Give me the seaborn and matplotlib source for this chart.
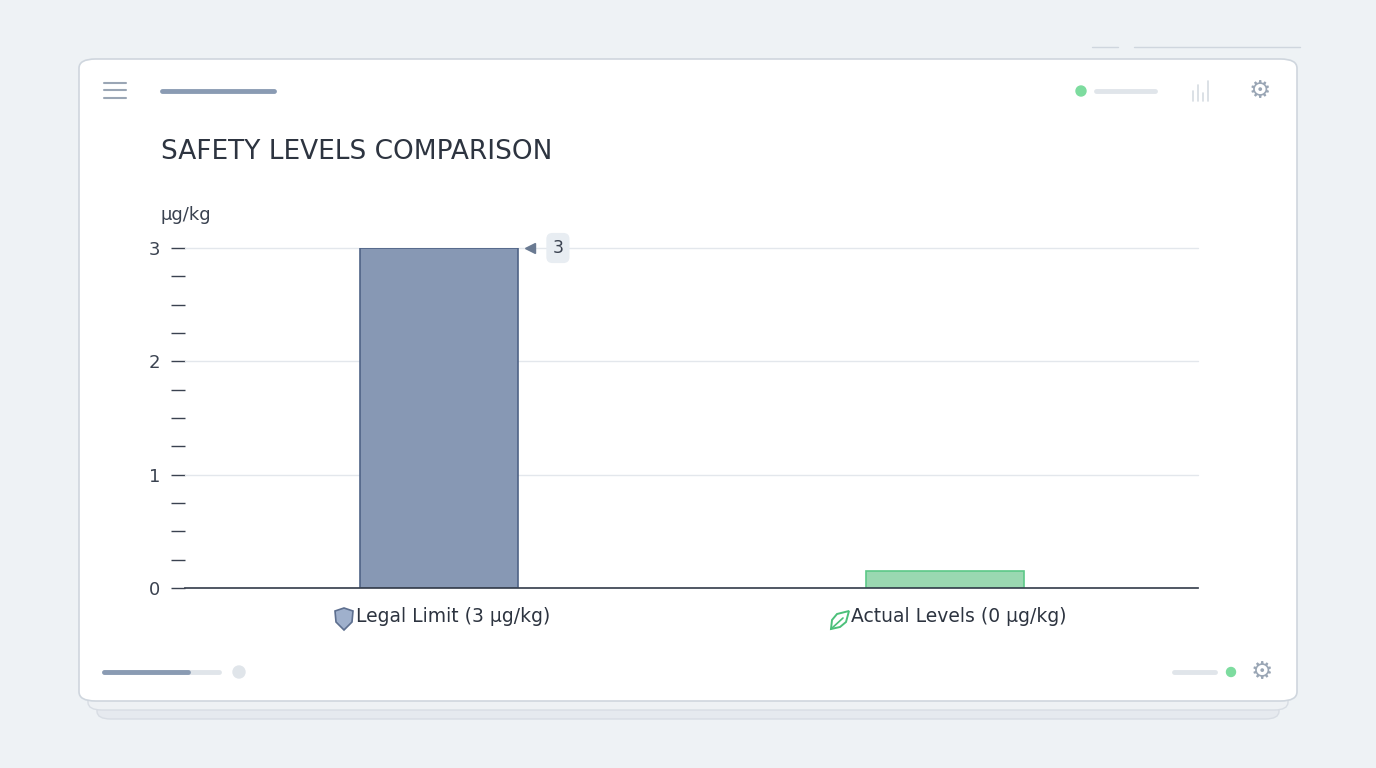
import matplotlib
matplotlib.use("Agg")
import matplotlib.pyplot as plt
import seaborn as sns
import pandas as pd
import numpy as np
from matplotlib.patches import FancyBboxPatch, Circle, Polygon, Ellipse
from matplotlib.lines import Line2D

categories = ["Legal Limit (3 μg/kg)", "Actual Levels (0 μg/kg)"]
values = [3.0, 0.15]
colors = ["#7f96bc", "#8fe3ae"]
edges = ["#4f6386", "#5cc887"]
yticks = [0, 1, 2, 3]

sns.set_theme(style="white")
plt.rcParams['font.family'] = ['DejaVu Sans']

W, H = 1376, 768
fig = plt.figure(figsize=(W/100, H/100), dpi=100)
fig.patch.set_facecolor("#eef2f5")

def px(x, y):
    return x / W, 1 - y / H

for off, col in [(18, "#e6eaef"), (9, "#eef1f4")]:
    x0, y0 = px(79 + off, 701 + off)
    fig.patches.append(FancyBboxPatch((x0, y0), (1218 - 2*off)/W, 30/H, boxstyle="round,pad=0,rounding_size=0.01",
                                      transform=fig.transFigure, fc=col, ec="#d8dde4", lw=1, zorder=0.1))
x0, y0 = px(79, 701)
fig.patches.append(FancyBboxPatch((x0, y0), 1218/W, 642/H, boxstyle="round,pad=0,rounding_size=0.012",
                                  transform=fig.transFigure, fc="white", ec="#cfd6de", lw=1.2, zorder=0.5))

def fline(xs, ys, **kw):
    fig.add_artist(Line2D([x/W for x in xs], [1-y/H for y in ys], transform=fig.transFigure, zorder=3, **kw))

for yy in (83, 90, 98):
    fline([104, 126], [yy, yy], color="#9aa6b5", lw=1.5)
fline([162, 274], [91, 91], color="#8a9bb3", lw=3.5, solid_capstyle="round")
fig.add_artist(Ellipse(px(1081, 91), 10/W, 10/H, transform=fig.transFigure, color="#7ddc9f", zorder=3))
fline([1096, 1155], [91, 91], color="#e0e5ea", lw=3.5, solid_capstyle="round")
for i, h in enumerate([10, 16, 8, 20]):
    fline([1193 + i*5]*2, [101 - h, 101], color="#d5dbe2", lw=1.2)
fig.text(*px(1260, 91), "⚙", fontsize=18, color="#9aa6b5", ha="center", va="center")
fline([104, 219], [672, 672], color="#e0e5ea", lw=3.5, solid_capstyle="round")
fline([104, 188], [672, 672], color="#8a9bb3", lw=3.5, solid_capstyle="round")
fig.add_artist(Ellipse(px(239, 672), 12/W, 12/H, transform=fig.transFigure, color="#e0e5ea", zorder=3))
fline([1174, 1215], [672, 672], color="#e0e5ea", lw=3.5, solid_capstyle="round")
fig.add_artist(Ellipse(px(1231, 672), 9/W, 9/H, transform=fig.transFigure, color="#7ddc9f", zorder=3))
fig.text(*px(1262, 672), "⚙", fontsize=18, color="#9aa6b5", ha="center", va="center")
fline([1092, 1118], [47, 47], color="#cfd6de", lw=1)
fline([1134, 1300], [47, 47], color="#cfd6de", lw=1)

# shield icon
sx, sy = 344, 620
shield = [(sx-9, sy-9), (sx, sy-12), (sx+9, sy-9), (sx+8, sy+2), (sx, sy+10), (sx-8, sy+2)]
fig.add_artist(Polygon([px(a, b) for a, b in shield], closed=True, transform=fig.transFigure,
                       fc="#9fb0cc", ec="#5d6f8f", lw=1.2, zorder=3))
# leaf icon
lx, ly = 840, 620
leaf = [(lx-9, ly+9), (lx-8, ly), (lx-3, ly-6), (lx+9, ly-9), (lx+6, ly+2), (lx, ly+7)]
fig.add_artist(Polygon([px(a, b) for a, b in leaf], closed=True, transform=fig.transFigure,
                       fc="none", ec="#4cc07a", lw=1.4, zorder=3))
fline([lx-9, lx+3], [ly+9, ly-2], color="#4cc07a", lw=1.2)

fig.text(*px(161, 152), "SAFETY LEVELS COMPARISON", fontsize=19, color="#2d3440", va="center")
fig.text(*px(161, 215), "μg/kg", fontsize=13, color="#3a4250", va="center")

ax = fig.add_axes([185/W, 1-588/H, (1198-185)/W, (588-248)/H])
ax.set_zorder(2)
ax.set_facecolor("none")
df = pd.DataFrame({"cat": categories, "val": values})
sns.barplot(data=df, x="cat", y="val", hue="cat", palette=colors, width=0.312, ax=ax, legend=False, zorder=3)
for p, ec in zip(ax.patches, edges):
    p.set_edgecolor(ec); p.set_linewidth(1.2)
ax.set_xlim(-0.502, 1.5)
ax.set_ylim(0, 3)
ax.set_yticks(yticks)
ax.set_yticklabels([str(t) for t in yticks], fontsize=13, color="#3a4250")
ax.set_yticks(np.arange(0, 3.01, 0.25), minor=True)
ax.tick_params(axis="y", which="both", length=10, color="#3a4250", width=1, pad=8, left=True, direction="out")
ax.set_xticks([0, 1])
ax.set_xticklabels(categories, fontsize=13.5, color="#2d3440")
for lbl in ax.get_xticklabels():
    lbl.set_x(lbl.get_position()[0])
ax.tick_params(axis="x", length=0, pad=22)
import matplotlib.transforms as mt
for lbl in ax.get_xticklabels():
    lbl.set_transform(lbl.get_transform() + mt.ScaledTranslation(0.14, 0.12, fig.dpi_scale_trans))
ax.set_xlabel(""); ax.set_ylabel("")
for y in yticks[1:]:
    ax.axhline(y, color="#e3e7ec", lw=1, zorder=1, clip_on=False)
for s in ["top", "right", "left"]:
    ax.spines[s].set_visible(False)
ax.spines["bottom"].set_color("#3a4250")
ax.spines["bottom"].set_zorder(4)
ax.text(0.235, 3, "3", fontsize=12.5, color="#3a4250", ha="center", va="center",
        bbox=dict(boxstyle="round,pad=0.35", fc="#e8edf2", ec="none"))
ax.plot([0.18], [3], marker="<", color="#6a7a92", ms=7, clip_on=False)

fig.savefig("out.png", dpi=100, facecolor=fig.get_facecolor())
